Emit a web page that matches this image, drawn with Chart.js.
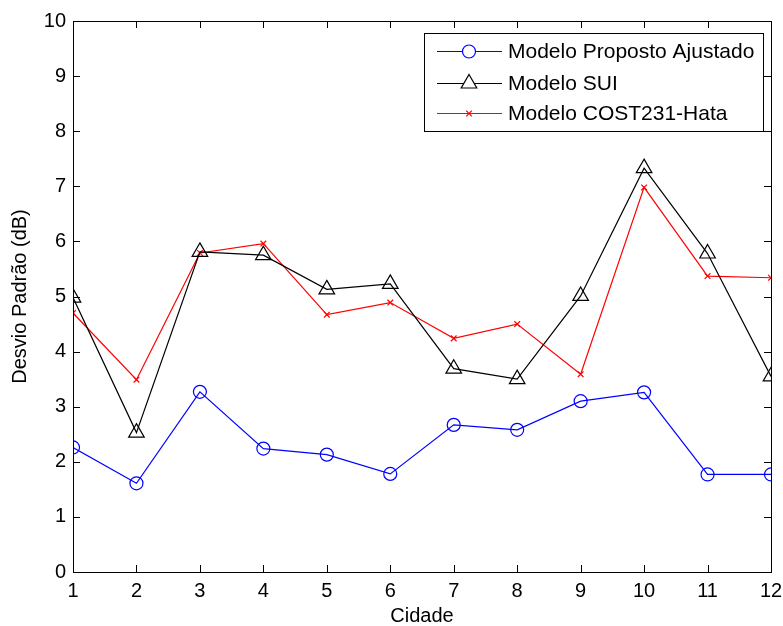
<!DOCTYPE html>
<html lang="pt">
<head>
<meta charset="utf-8">
<title>Desvio Padrão por Cidade</title>
<script src="https://cdn.jsdelivr.net/npm/chart.js@4/dist/chart.umd.min.js"></script>
<style>
  html, body { margin: 0; padding: 0; background: #fff; }
  #wrap { width: 783px; height: 626px; position: relative; }
</style>
</head>
<body>
<div id="wrap"><canvas id="desvioChart" width="783" height="626"></canvas></div>
<script>
/* ── Desvio padrão (dB) por cidade para três modelos de propagação ─────────── */

// ── Data ──────────────────────────────────────────────────────────────────────
const cidades = [1, 2, 3, 4, 5, 6, 7, 8, 9, 10, 11, 12];

const propostoAjustado = [2.26, 1.61, 3.27, 2.24, 2.13, 1.78, 2.67, 2.58, 3.10, 3.26, 1.77, 1.77];
const modeloSUI        = [4.98, 2.53, 5.81, 5.75, 5.13, 5.23, 3.69, 3.50, 5.01, 7.33, 5.78, 3.55];
const cost231Hata      = [4.70, 3.49, 5.79, 5.96, 4.67, 4.89, 4.24, 4.50, 3.59, 6.98, 5.37, 5.34];

const seriesLabels = ["Modelo Proposto Ajustado", "Modelo SUI", "Modelo COST231-Hata"];
const xTicks = cidades;
const yTicks = [0, 1, 2, 3, 4, 5, 6, 7, 8, 9, 10];

const FONT = "'Liberation Sans', Arial, Helvetica, sans-serif";

function points(values) {
  return cidades.map((c, i) => ({ x: c, y: values[i] }));
}

// ── Axes frame with inward ticks on all four sides ──────────────────────────
const frameTicks = {
  id: "frameTicks",
  afterDatasetsDraw(chart) {
    const { ctx, chartArea: a, scales } = chart;
    const len = 7;
    ctx.save();
    ctx.strokeStyle = "#000";
    ctx.lineWidth = 1;
    ctx.beginPath();
    xTicks.forEach((v) => {
      const px = Math.round(scales.x.getPixelForValue(v)) + 0.5;
      ctx.moveTo(px, a.bottom); ctx.lineTo(px, a.bottom - len);
      ctx.moveTo(px, a.top);    ctx.lineTo(px, a.top + len);
    });
    yTicks.forEach((v) => {
      const py = Math.round(scales.y.getPixelForValue(v)) + 0.5;
      ctx.moveTo(a.left, py);  ctx.lineTo(a.left + len, py);
      ctx.moveTo(a.right, py); ctx.lineTo(a.right - len, py);
    });
    ctx.stroke();
    ctx.strokeRect(Math.round(a.left) + 0.5, Math.round(a.top) + 0.5,
                   Math.round(a.right - a.left), Math.round(a.bottom - a.top));
    ctx.restore();
  },
};

// ── Boxed legend in the upper right corner ───────────────────────────────────
const boxLegend = {
  id: "boxLegend",
  afterDraw(chart) {
    const { ctx } = chart;
    const box = { x: 424, y: 33, w: 339, h: 98 };
    const rowY = [51, 83, 113];
    ctx.save();
    ctx.fillStyle = "#fff";
    ctx.fillRect(box.x, box.y, box.w, box.h);
    ctx.strokeStyle = "#000";
    ctx.lineWidth = 1;
    ctx.strokeRect(box.x + 0.5, box.y + 0.5, box.w, box.h);

    chart.data.datasets.forEach((ds, i) => {
      const y = rowY[i] + 0.5;
      ctx.strokeStyle = ds.borderColor;
      ctx.lineWidth = ds.borderWidth;
      ctx.beginPath();
      ctx.moveTo(437, y);
      ctx.lineTo(502, y);
      ctx.stroke();

      // open marker: white fill so the line does not show through
      ctx.fillStyle = "#fff";
      ctx.strokeStyle = ds.pointBorderColor;
      ctx.lineWidth = ds.pointBorderWidth;
      Chart.helpers.drawPoint(ctx, {
        pointStyle: ds.pointStyle,
        radius: ds.pointRadius,
        borderWidth: ds.pointBorderWidth,
      }, 469, y);

      ctx.fillStyle = "#000";
      ctx.font = `21px ${FONT}`;
      ctx.textBaseline = "middle";
      ctx.fillText(ds.label, 508, rowY[i] + 1);
    });
    ctx.restore();
  },
};

// ── Chart ─────────────────────────────────────────────────────────────────────
function serie(label, values, color, style, radius) {
  return {
    label,
    data: points(values),
    borderColor: color,
    backgroundColor: "rgba(0,0,0,0)",
    borderWidth: 1.2,
    pointStyle: style,
    pointRadius: radius,
    pointHoverRadius: radius,
    pointBorderColor: color,
    pointBackgroundColor: "rgba(0,0,0,0)",
    pointBorderWidth: 1.2,
    tension: 0,
    fill: false,
  };
}

const ctx = document.getElementById("desvioChart").getContext("2d");
new Chart(ctx, {
  type: "line",
  data: {
    datasets: [
      serie(seriesLabels[0], propostoAjustado, "#0000ff", "circle", 6.5),
      serie(seriesLabels[1], modeloSUI,        "#000000", "triangle", 9),
      serie(seriesLabels[2], cost231Hata,      "#ff0000", "crossRot", 4),
    ],
  },
  options: {
    responsive: false,
    animation: false,
    devicePixelRatio: 1,
    layout: { padding: { top: 21, right: 12, left: 0, bottom: 0 } },
    plugins: {
      legend: { display: false },
      tooltip: { enabled: false },
    },
    scales: {
      x: {
        type: "linear",
        min: 1,
        max: 12,
        afterFit: (s) => { s.height = 54; s.paddingLeft = 0; s.paddingRight = 0; },
        afterBuildTicks: (s) => { s.ticks = xTicks.map((v) => ({ value: v })); },
        grid: { display: false, drawTicks: false },
        border: { display: false },
        ticks: { color: "#000", font: { family: FONT, size: 20 }, padding: 7, maxRotation: 0 },
        title: {
          display: true,
          text: "Cidade",
          color: "#000",
          font: { family: FONT, size: 20, lineHeight: 1 },
          padding: { top: 0, bottom: 0 },
        },
      },
      y: {
        min: 0,
        max: 10,
        afterFit: (s) => { s.width = 73; s.paddingTop = 0; s.paddingBottom = 0; },
        afterBuildTicks: (s) => { s.ticks = yTicks.map((v) => ({ value: v })); },
        grid: { display: false, drawTicks: false },
        border: { display: false },
        ticks: { color: "#000", font: { family: FONT, size: 20 }, padding: 7 },
        title: {
          display: true,
          text: "Desvio Padrão (dB)",
          color: "#000",
          font: { family: FONT, size: 20 },
          padding: { top: 8, bottom: 0 },
        },
      },
    },
  },
  plugins: [frameTicks, boxLegend],
});
</script>
</body>
</html>
